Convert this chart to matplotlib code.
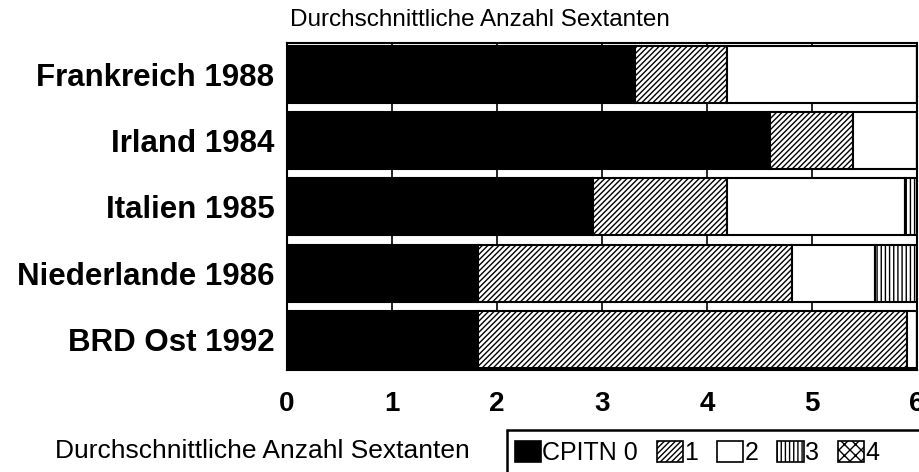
import numpy as np
import matplotlib
matplotlib.use("Agg")
import matplotlib.pyplot as plt
from matplotlib.patches import Patch, Rectangle

plt.rcParams['font.family'] = ['Liberation Sans', 'DejaVu Sans']
plt.rcParams['hatch.linewidth'] = 1.0

countries = ["Frankreich 1988", "Irland 1984", "Italien 1985",
             "Niederlande 1986", "BRD Ost 1992"]
cpitn_0 = [3.31, 4.60, 2.91, 1.82, 1.82]
cpitn_1 = [0.88, 0.79, 1.28, 2.99, 4.08]
cpitn_2 = [1.81, 0.61, 1.70, 0.79, 0.10]
cpitn_3 = [0.00, 0.00, 0.11, 0.40, 0.00]
cpitn_4 = [0.00, 0.00, 0.00, 0.00, 0.00]
legend_labels = ["CPITN 0", "1", "2", "3", "4"]
x_ticks = [0, 1, 2, 3, 4, 5, 6]

series = [cpitn_0, cpitn_1, cpitn_2, cpitn_3, cpitn_4]
faces = ["black", "white", "white", "white", "white"]
hatches = [None, "//////", None, "||||", "xxx"]

fig = plt.figure(figsize=(9.2, 4.72), dpi=100)
ax = fig.add_axes([287 / 920, 1 - 370 / 472, 630 / 920, 327 / 472])

y = np.arange(len(countries))
left = np.zeros(len(countries))
for vals, fc, h in zip(series, faces, hatches):
    vals = np.array(vals)
    ax.barh(y, vals, left=left, height=0.86, color=fc, edgecolor="black",
            linewidth=1.5, hatch=h, zorder=2)
    left += vals

ax.set_xlim(0, 6)
ax.set_ylim(4.46, -0.47)
ax.set_xticks(x_ticks)
ax.set_xticklabels([str(t) for t in x_ticks], fontsize=20, fontweight="bold")
ax.set_yticks(y)
ax.set_yticklabels(countries, fontsize=22.5, fontweight="bold")
ax.tick_params(axis="y", length=0, pad=9)
ax.tick_params(axis="x", length=0, pad=15)
ax.grid(axis="x", color="black", linewidth=1.2)
ax.set_axisbelow(True)
for s in ax.spines.values():
    s.set_linewidth(1.5)

fig.text(290 / 920, 1 - 20 / 472, "Durchschnittliche Anzahl Sextanten",
         fontsize=17.5, va="center", ha="left")
fig.text(55 / 920, 1 - 451 / 472, "Durchschnittliche Anzahl Sextanten",
         fontsize=19, va="center", ha="left")

# legend box, cut off by the figure edge like in the original
fig.patches.append(Rectangle((507 / 920, -0.05), 0.5, 0.05 + 1 - 430 / 472,
                             transform=fig.transFigure, facecolor="none",
                             edgecolor="black", linewidth=1.8))
handles = [Patch(facecolor=fc, edgecolor="black", hatch=h, linewidth=1.2)
           for fc, h in zip(faces, hatches)]
fig.legend(handles, legend_labels, loc="center left",
           bbox_to_anchor=(515 / 920, 1 - 453 / 472), ncol=5, frameon=False,
           fontsize=18, handlelength=1.05, handleheight=0.9,
           handletextpad=0.05, columnspacing=0.75, borderpad=0,
           borderaxespad=0)

fig.savefig("out.png", dpi=100)
